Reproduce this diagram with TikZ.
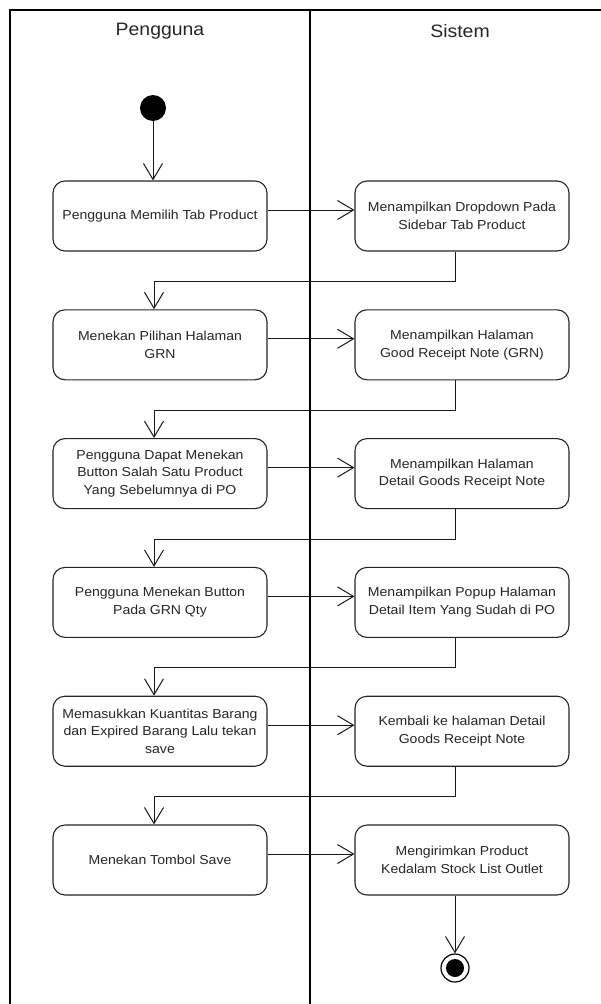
\documentclass[tikz,border=0pt]{standalone}
\usepackage{fontspec}
\setmainfont{Liberation Sans}[FakeStretch=1.08]
\usetikzlibrary{arrows.meta,calc}
\begin{document}
\begin{tikzpicture}[x=1pt,y=-1pt,
  lane/.style={line width=2pt,draw=black},
  act/.style={draw=black!85,line width=1.1pt,rounded corners=12pt,
    minimum width=214pt,minimum height=70pt,inner sep=0pt,align=center,
    font=\fontsize{13}{17.7}\selectfont,text=black!85},
  flow/.style={draw=black!90,line width=1pt,
    -{Straight Barb[length=16pt,width=19pt,line width=1pt]}},
  head/.style={font=\fontsize{18}{22}\selectfont,text=black!85}]
\useasboundingbox (0,0) rectangle (601,1004);

% swimlane frame
\draw[lane] (10,1004) -- (10,10) -- (601,10);
\draw[lane] (310,10) -- (310,1004);
\node[head] (hUser) at (160,31) {Pengguna};
\node[head] (hSys) at (460,31) {Sistem};

% start / end
\node[circle,fill=black,minimum size=26pt,inner sep=0pt] (start) at (153,108) {};
\node[circle,draw=black,line width=1.2pt,minimum size=28pt,inner sep=0pt] (endO) at (455,968) {};
\node[circle,fill=black,minimum size=18pt,inner sep=0pt] (endI) at (455,968) {};

% activities
\node[act] (L1) at (160,216)   {Pengguna Memilih Tab Product};
\node[act] (R1) at (462,216)   {Menampilkan Dropdown Pada\\Sidebar Tab Product};
\node[act] (L2) at (160,344.8) {Menekan Pilihan Halaman\\GRN};
\node[act] (R2) at (462,344.8) {Menampilkan Halaman\\Good Receipt Note (GRN)};
\node[act] (L3) at (160,473.6) {Pengguna Dapat Menekan\\Button Salah Satu Product\\Yang Sebelumnya di PO};
\node[act] (R3) at (462,473.6) {Menampilkan Halaman\\Detail Goods Receipt Note};
\node[act] (L4) at (160,602.4) {Pengguna Menekan Button\\Pada GRN Qty};
\node[act] (R4) at (462,602.4) {Menampilkan Popup Halaman\\Detail Item Yang Sudah di PO};
\node[act] (L5) at (160,731.2) {Memasukkan Kuantitas Barang\\dan Expired Barang Lalu tekan\\save};
\node[act] (R5) at (462,731.2) {Kembali ke halaman Detail\\Goods Receipt Note};
\node[act] (L6) at (160,860)   {Menekan Tombol Save};
\node[act] (R6) at (462,860)   {Mengirimkan Product\\Kedalam Stock List Outlet};

% flows
\draw[flow] (start.south) -- (start.south |- L1.north);
\foreach \i in {1,...,6}{
  \draw[flow] ([yshift=6pt]L\i.east) -- ([yshift=6pt]R\i.west);
}
\foreach \i/\j in {1/2,2/3,3/4,4/5,5/6}{
  \draw[flow] ([xshift=-7pt]R\i.south) -- ++(0,30) -| ([xshift=-6pt]L\j.north);
}
\draw[flow] ([xshift=-7pt]R6.south) -- (endO.north);
\end{tikzpicture}
\end{document}
